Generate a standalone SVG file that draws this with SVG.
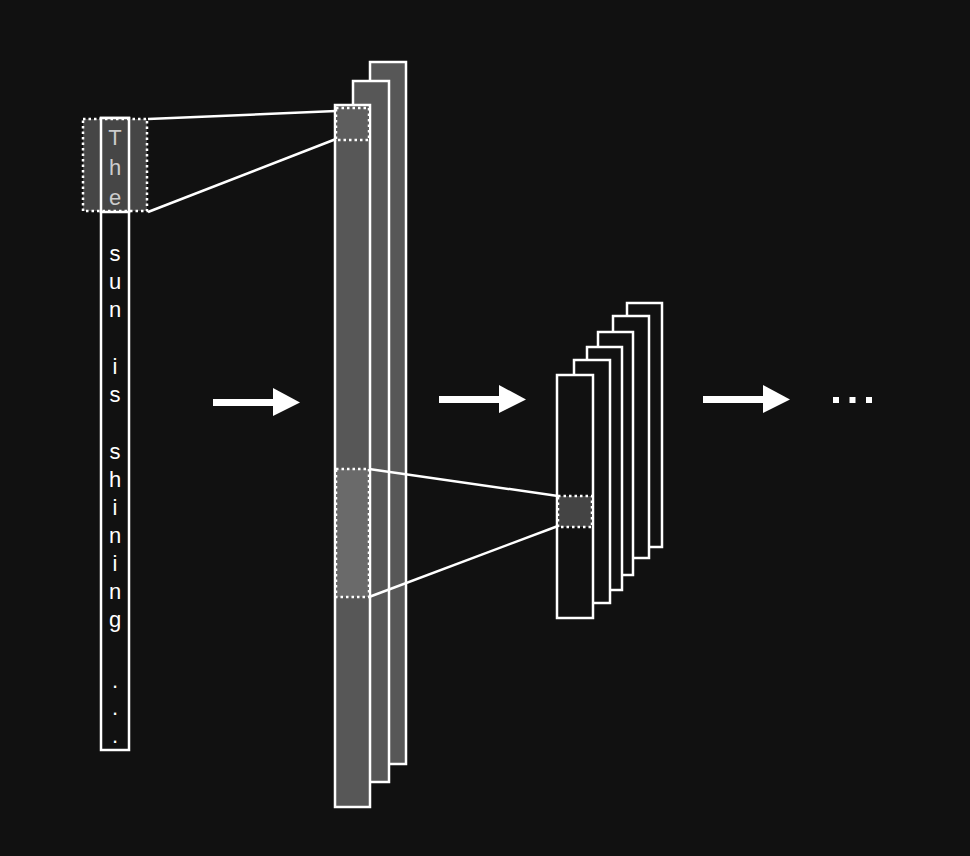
<svg xmlns="http://www.w3.org/2000/svg" width="970" height="856" viewBox="0 0 970 856">
<style>
.bg{fill:#111111}
.box{stroke:#ffffff;stroke-width:2.5}
.fm{fill:#575757}
.dk{fill:#111111}
.dot{stroke:#ffffff;stroke-width:2.5;stroke-dasharray:2.5 3}
.ln{stroke:#ffffff;stroke-width:2.5;fill:none}
.t{font-family:"Liberation Sans",Arial,sans-serif;font-size:22px;fill:#ffffff;text-anchor:middle}
.tg{fill:#cccccc}
.ar{fill:#ffffff}
</style>
<rect class="bg" x="0" y="0" width="970" height="856"/>

<g id="input">
<rect class="box dk" x="101" y="118" width="28" height="632"/>
<rect class="dot" x="83" y="119" width="64" height="92" fill="#464646"/>
<rect class="box" x="101" y="118" width="28" height="94" fill="none"/>
<g class="t">
<text class="t tg" x="115" y="145">T</text>
<text class="t tg" x="115" y="175">h</text>
<text class="t tg" x="115" y="205">e</text>
<text class="t" x="115" y="261">s</text>
<text class="t" x="115" y="289">u</text>
<text class="t" x="115" y="317">n</text>
<text class="t" x="115" y="374">i</text>
<text class="t" x="115" y="402">s</text>
<text class="t" x="115" y="459">s</text>
<text class="t" x="115" y="487">h</text>
<text class="t" x="115" y="515">i</text>
<text class="t" x="115" y="543">n</text>
<text class="t" x="115" y="571">i</text>
<text class="t" x="115" y="599">n</text>
<text class="t" x="115" y="627">g</text>
<text class="t" x="115" y="688">.</text>
<text class="t" x="115" y="715">.</text>
<text class="t" x="115" y="743">.</text>
</g>
</g>

<g id="featuremaps1">
<rect class="box fm" x="370" y="62" width="36" height="702"/>
<rect class="box fm" x="353" y="81" width="36" height="701"/>
<rect class="box fm" x="335" y="105" width="35" height="702"/>
<rect class="dot" x="336" y="108" width="33" height="32" fill="#5e5e5e"/>
<rect class="dot" x="336" y="469" width="33" height="128" fill="#6a6a6a"/>
</g>

<g id="featuremaps2">
<rect class="box dk" x="627" y="303" width="35" height="244"/>
<rect class="box dk" x="613" y="316" width="36" height="242"/>
<rect class="box dk" x="598" y="332" width="35" height="243"/>
<rect class="box dk" x="587" y="347" width="35" height="243"/>
<rect class="box dk" x="574" y="360" width="36" height="243"/>
<rect class="box dk" x="557" y="375" width="36" height="243"/>
<rect class="dot" x="558" y="496" width="34" height="31" fill="#444444"/>
</g>

<g id="connectors">
<line class="ln" x1="148" y1="119" x2="336" y2="111"/>
<line class="ln" x1="148" y1="212" x2="336" y2="139"/>
<line class="ln" x1="369" y1="469" x2="558" y2="496"/>
<line class="ln" x1="369" y1="597" x2="558" y2="526"/>
<g id="arrow1">
<rect class="ar" x="213" y="399" width="61" height="7"/>
<polygon class="ar" points="273,388 300,402.5 273,416"/>
</g>
<g id="arrow2">
<rect class="ar" x="439" y="396" width="61" height="7"/>
<polygon class="ar" points="499,385 526,399.5 499,413"/>
</g>
<g id="arrow3">
<rect class="ar" x="703" y="396" width="61" height="7"/>
<polygon class="ar" points="763,385 790,399.5 763,413"/>
</g>
</g>

<g id="ellipsis">
<rect class="ar" x="833" y="397" width="6" height="6"/>
<rect class="ar" x="849.5" y="397" width="6" height="6"/>
<rect class="ar" x="866" y="397" width="6" height="6"/>
</g>
</svg>
